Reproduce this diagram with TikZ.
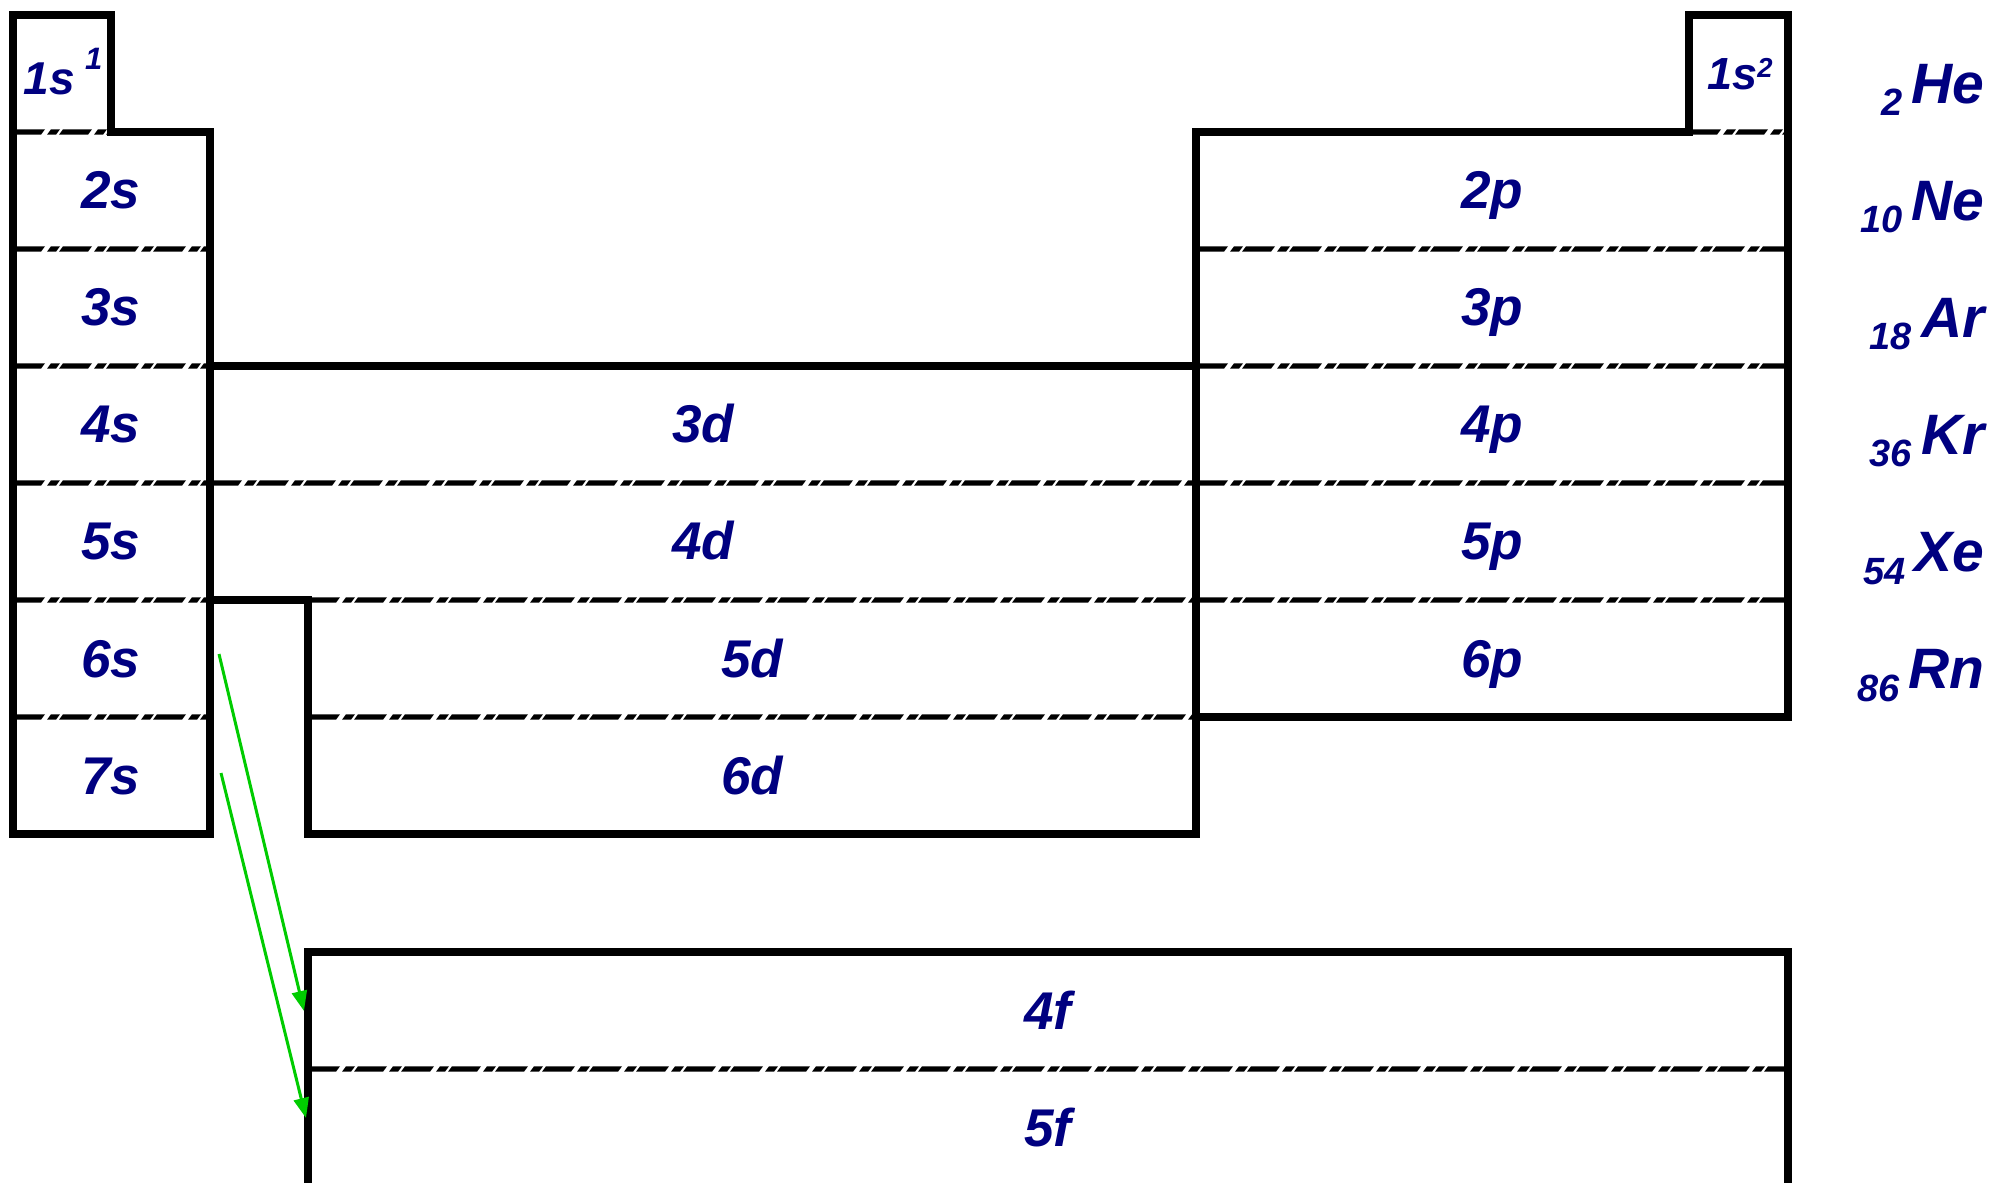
\documentclass[tikz,border=0pt]{standalone}
\usepackage{fontspec}
\setmainfont{Liberation Sans}
\usetikzlibrary{arrows.meta}
\definecolor{lbl}{RGB}{0,0,128}
\definecolor{arr}{RGB}{0,204,0}
\newcommand{\elnum}[1]{\raisebox{-0.12cm}{\fontsize{10.8pt}{12pt}\selectfont #1}\hspace{0.09cm}}
\newcommand{\sepline}[3]{%
 \begin{scope}
 \clip (#1,#3-4) rectangle (#2,#3+4);
 \foreach \k in {0,...,32}{%
   \pgfmathsetmacro{\xs}{#1+47*\k}%
   \fill (\xs+3,#3-2.7) -- (\xs+32,#3-2.7) -- (\xs+28,#3+2.7) -- (\xs-1,#3+2.7) -- cycle;
   \fill (\xs+38,#3-2.7) -- (\xs+47,#3-2.7) -- (\xs+43,#3+2.7) -- (\xs+34,#3+2.7) -- cycle;
 }
 \end{scope}}
\begin{document}
\begin{tikzpicture}[x=0.01cm,y=-0.01cm,
  blk/.style={line width=0.08cm, line join=miter},
  lab/.style={text=lbl, font=\fontsize{15.1pt}{18pt}\selectfont\bfseries\itshape, inner sep=0pt, anchor=base},
  elem/.style={text=lbl, font=\fontsize{16.2pt}{19pt}\selectfont\bfseries\itshape, inner sep=0pt, anchor=base east},
  trans/.style={draw=arr, line width=0.03cm, -{Triangle[length=0.2cm,width=0.15cm,fill=arr]}}
]
\fill[white] (0,0) rectangle (1995,1183);
\useasboundingbox (0,0) rectangle (1995,1183);

% dashed row separators
\sepline{13}{111}{132}
\foreach \yy in {249,366,483,600,717} {\sepline{13}{210}{\yy}}
\sepline{210}{1196}{483}
\sepline{308}{1196}{600}
\sepline{308}{1196}{717}
\sepline{1689}{1784}{132}
\foreach \yy in {249,366,483,600} {\sepline{1196}{1784}{\yy}}
\sepline{308}{1784}{1069}

% block outlines
\draw[blk] (13,15) -- (111,15) -- (111,132) -- (210,132) -- (210,834) -- (13,834) -- cycle;
\draw[blk] (210,366) -- (1196,366) -- (1196,834) -- (308,834) -- (308,600) -- (210,600);
\draw[blk] (1196,132) -- (1689,132) -- (1689,15) -- (1788,15) -- (1788,717) -- (1196,717) -- cycle;
\draw[blk] (308,1200) -- (308,952) -- (1788,952) -- (1788,1200);

% labels
\node[lab, font=\fontsize{13.1pt}{16pt}\selectfont\bfseries\itshape] (n1s) at (63,95) {1s\hspace{0.1cm}\raisebox{0.25cm}{\fontsize{8.8pt}{10pt}\selectfont 1}};
\node[lab, font=\fontsize{12.8pt}{15pt}\selectfont\bfseries\itshape] (n1s2) at (1740,90) {1s\raisebox{0.12cm}{\fontsize{7.8pt}{9pt}\selectfont 2}};
\node[lab] (n2s) at (111,209) {2s};
\node[lab] (n3s) at (111,326) {3s};
\node[lab] (n4s) at (111,443) {4s};
\node[lab] (n5s) at (111,560) {5s};
\node[lab] (n6s) at (111,677) {6s};
\node[lab] (n7s) at (111,794) {7s};
\node[lab] (n3d) at (703,443) {3d};
\node[lab] (n4d) at (703,560) {4d};
\node[lab] (n5d) at (752,677) {5d};
\node[lab] (n6d) at (752,794) {6d};
\node[lab] (n2p) at (1492,209) {2p};
\node[lab] (n3p) at (1492,326) {3p};
\node[lab] (n4p) at (1492,443) {4p};
\node[lab] (n5p) at (1492,560) {5p};
\node[lab] (n6p) at (1492,677) {6p};
\node[lab] (n4f) at (1048,1029) {4f};
\node[lab] (n5f) at (1048,1146) {5f};

% noble gases
\node[elem] (eHe) at (1985,104) {\elnum{2}He};
\node[elem] (eNe) at (1985,221) {\elnum{10}Ne};
\node[elem] (eAr) at (1985,338) {\elnum{18}Ar};
\node[elem] (eKr) at (1985,455) {\elnum{36}Kr};
\node[elem] (eXe) at (1985,572) {\elnum{54}Xe};
\node[elem] (eRn) at (1985,689) {\elnum{86}Rn};

% arrows to f-block
\coordinate (a1s) at (219,654);
\coordinate (a1e) at (304,1011);
\coordinate (a2s) at (221,773);
\coordinate (a2e) at (306,1118);
\draw[trans] (a1s) -- (a1e);
\draw[trans] (a2s) -- (a2e);
\end{tikzpicture}
\end{document}
